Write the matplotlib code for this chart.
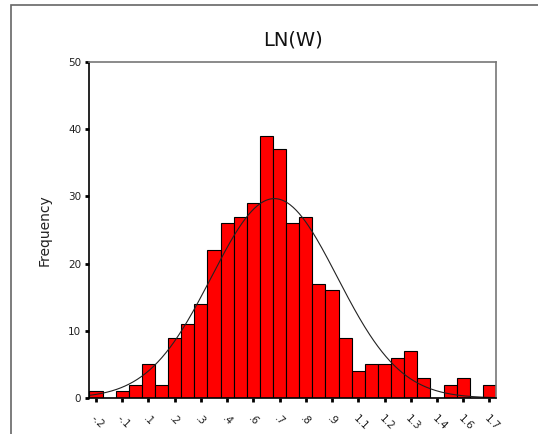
import numpy as np
import matplotlib.pyplot as plt
from matplotlib.patches import Rectangle

# histogram of LN(W), 31 bins of width 0.0625
bin_start = -0.23125
bin_width = 0.0625
counts = [1, 0, 1, 2, 5, 2, 9, 11, 14, 22, 26, 27, 29, 39, 37, 26,
          27, 17, 16, 9, 4, 5, 5, 6, 7, 3, 0, 2, 3, 0, 2]
tick_labels = ["-.2", "-.1", ".1", ".2", ".3", ".4", ".6", ".7",
               ".8", ".9", "1.1", "1.2", "1.3", "1.4", "1.6", "1.7"]
# normal curve fitted to the data
mean_ln = 0.65
sd_ln = 0.30

n_total = sum(counts)
edges = bin_start + bin_width * np.arange(len(counts) + 1)
centers = edges[:-1] + bin_width / 2

fig = plt.figure(figsize=(5.38, 4.34), dpi=100)
ax = fig.add_axes([89.4 / 538, 36 / 434, (496 - 89.4) / 538, (398 - 62) / 434])

# outer frame of the chart window
fig.patches.append(Rectangle((11 / 538, -0.1), 1.2, 0.1 + 1 - 5 / 434,
                             transform=fig.transFigure, fill=False,
                             edgecolor='#666666', linewidth=1.2))

ax.bar(centers, counts, width=bin_width, color='#ff0000',
       edgecolor='black', linewidth=0.8)

xs = np.linspace(edges[0], edges[-1], 400)
ys = n_total * bin_width / (sd_ln * np.sqrt(2 * np.pi)) * np.exp(-0.5 * ((xs - mean_ln) / sd_ln) ** 2)
ax.plot(xs, ys, color='#222222', linewidth=0.8)

ax.set_xlim(edges[0], edges[-1])
ax.set_ylim(0, 50)
ax.set_yticks([0, 10, 20, 30, 40, 50])
ax.set_xticks(centers[::2])
ax.set_xticklabels(tick_labels, rotation=-45, ha='left', va='top',
                   rotation_mode='anchor', fontsize=7.5, color='#222222')
ax.tick_params(axis='y', labelsize=7.5, labelcolor='#222222', length=3, width=2, pad=3)
ax.tick_params(axis='x', length=3, width=2, pad=8)

for side in ['top', 'right']:
    ax.spines[side].set_color('#777777')
    ax.spines[side].set_linewidth(1.2)
for side in ['left', 'bottom']:
    ax.spines[side].set_color('black')
    ax.spines[side].set_linewidth(1.2)

ax.set_ylabel("Frequency", fontsize=10, labelpad=12, color='#222222')
ax.set_title("LN(W)", fontsize=14, pad=12, color='#111111')

fig.savefig("out.png", dpi=100)
